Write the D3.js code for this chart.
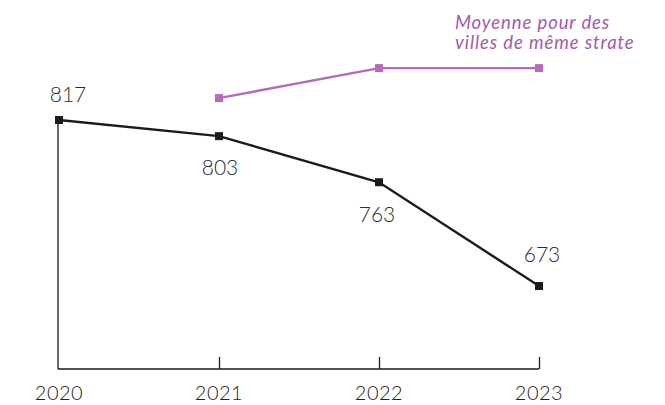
<!DOCTYPE html>
<html>
<head>
<meta charset="utf-8">
<script src="https://cdn.jsdelivr.net/npm/d3@7"></script>
<style>
  body { margin: 0; background: #fff; }
  svg { display: block; }
</style>
</head>
<body>
<div id="chart"></div>
<script>
var years = ['2020', '2021', '2022', '2023'];
var commune = [817, 803, 763, 673];
var strateYears = ['2021', '2022', '2023'];
var strate = [836, 862, 862];
var legendLines = ['Moyenne pour des', 'villes de même strate'];

var width = 665, height = 405;
var BLACK = '#1b1b1b';
var PURPLE = '#b36cb5';
var PURPLE_TEXT = '#a55aa8';

var svg = d3.select('#chart').append('svg')
	.attr('width', width)
	.attr('height', height);

var x = d3.scalePoint()
	.domain(years)
	.range([59, 539]);

// baseline sits at ~600, 817 lands near y=120
var y = d3.scaleLinear()
	.domain([601, 817])
	.range([369, 120]);

// axis: horizontal baseline with ticks pointing up
var xAxis = d3.axisBottom(x)
	.tickSize(-12)
	.tickFormat('');

var gx = svg.append('g')
	.attr('transform', 'translate(0,' + y(601) + ')')
	.call(xAxis);
gx.select('.domain').remove();
gx.selectAll('.tick line')
	.attr('stroke', BLACK)
	.attr('stroke-width', 1.3)
	.attr('display', function(d) { return d === years[0] ? 'none' : null; });

svg.append('line')
	.attr('x1', x(years[0]) - 1).attr('x2', x(years[years.length - 1]))
	.attr('y1', y(601)).attr('y2', y(601))
	.attr('stroke', BLACK)
	.attr('stroke-width', 1.3);

// vertical line from first point down to baseline
svg.append('line')
	.attr('x1', x(years[0]) - 1).attr('x2', x(years[0]) - 1)
	.attr('y1', y(commune[0])).attr('y2', y(601))
	.attr('stroke', BLACK)
	.attr('stroke-width', 1.3);

svg.selectAll('.year')
	.data(years)
	.enter().append('text')
	.attr('class', 'year')
	.attr('x', function(d) { return x(d); })
	.attr('y', 400)
	.attr('text-anchor', 'middle')
	.attr('font-family', 'Lato, sans-serif')
	.attr('font-weight', 300)
	.attr('font-size', 20)
	.attr('letter-spacing', 0.5)
	.attr('fill', '#222')
	.text(function(d) { return d; });

var line = d3.line()
	.x(function(d) { return x(d[0]); })
	.y(function(d) { return y(d[1]); });

var strateData = d3.zip(strateYears, strate);
var communeData = d3.zip(years, commune);

svg.append('path')
	.datum(strateData)
	.attr('d', line)
	.attr('fill', 'none')
	.attr('stroke', PURPLE)
	.attr('stroke-width', 2.4);

svg.selectAll('.pmark')
	.data(strateData)
	.enter().append('rect')
	.attr('class', 'pmark')
	.attr('x', function(d) { return x(d[0]) - 4; })
	.attr('y', function(d) { return y(d[1]) - 4; })
	.attr('width', 8)
	.attr('height', 8)
	.attr('fill', PURPLE);

svg.append('path')
	.datum(communeData)
	.attr('d', line)
	.attr('fill', 'none')
	.attr('stroke', BLACK)
	.attr('stroke-width', 2.4);

svg.selectAll('.cmark')
	.data(communeData)
	.enter().append('rect')
	.attr('class', 'cmark')
	.attr('x', function(d) { return x(d[0]) - 4; })
	.attr('y', function(d) { return y(d[1]) - 4; })
	.attr('width', 8)
	.attr('height', 8)
	.attr('fill', BLACK);

// value labels: above or below the point
var labelOffset = [-18, 39, 40, -24];
var labelShift = [9, 1, -2, 3];
svg.selectAll('.val')
	.data(communeData)
	.enter().append('text')
	.attr('class', 'val')
	.attr('x', function(d, i) { return x(d[0]) + labelShift[i]; })
	.attr('y', function(d, i) { return y(d[1]) + labelOffset[i]; })
	.attr('text-anchor', 'middle')
	.attr('font-family', 'Lato, sans-serif')
	.attr('font-weight', 300)
	.attr('font-size', 21)
	.attr('fill', '#2a2a2a')
	.text(function(d) { return d[1]; });

svg.append('g')
	.selectAll('text')
	.data(legendLines)
	.enter().append('text')
	.attr('x', 455)
	.attr('y', function(d, i) { return 29 + i * 20; })
	.attr('font-family', 'Lato, sans-serif')
	.attr('font-style', 'italic')
	.attr('font-size', 18.5)
	.attr('letter-spacing', 0.9)
	.attr('fill', PURPLE_TEXT)
	.text(function(d) { return d; });
</script>
</body>
</html>
